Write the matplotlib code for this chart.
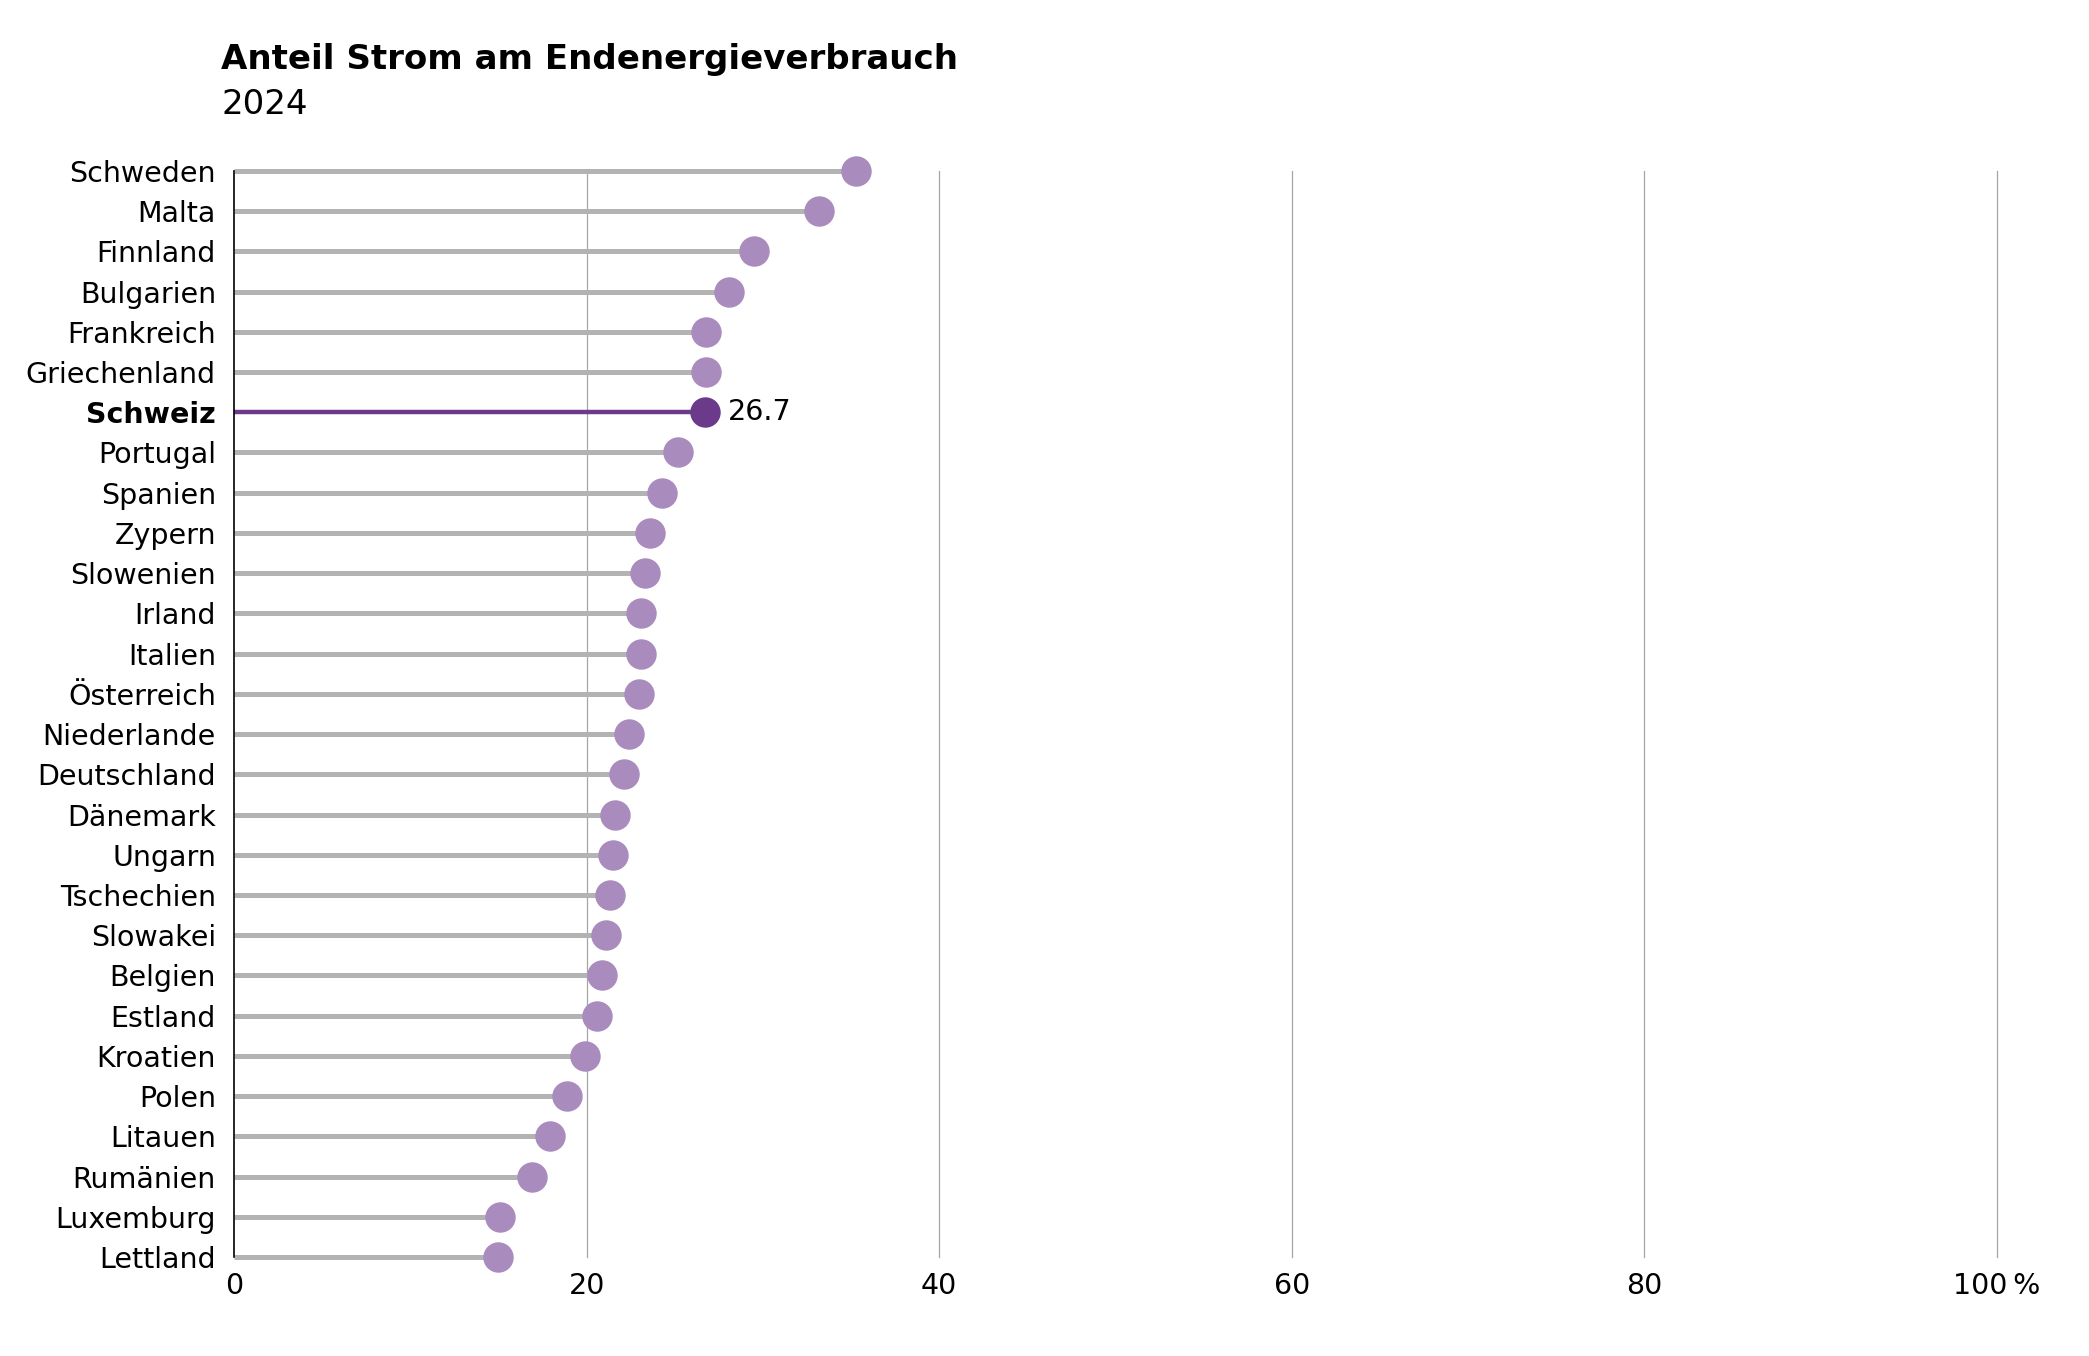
import numpy as np
import matplotlib.pyplot as plt

plt.rcParams['font.family'] = ['DejaVu Sans']

# Anteil Strom am Endenergieverbrauch 2024, in %
countries = ['Schweden', 'Malta', 'Finnland', 'Bulgarien', 'Frankreich', 'Griechenland',
             'Schweiz', 'Portugal', 'Spanien', 'Zypern', 'Slowenien', 'Irland', 'Italien',
             'Österreich', 'Niederlande', 'Deutschland', 'Dänemark', 'Ungarn', 'Tschechien',
             'Slowakei', 'Belgien', 'Estland', 'Kroatien', 'Polen', 'Litauen', 'Rumänien',
             'Luxemburg', 'Lettland']
values = [35.3, 33.2, 29.5, 28.1, 26.8, 26.75, 26.7, 25.2, 24.3, 23.6, 23.3, 23.1, 23.1,
          23.0, 22.4, 22.1, 21.6, 21.5, 21.3, 21.1, 20.9, 20.6, 19.9, 18.9, 17.9, 16.9,
          15.1, 15.0]
highlight = 'Schweiz'
xticks = [0, 20, 40, 60, 80, 100]
xticklabels = ['0', '20', '40', '60', '80', '100\u2009%']

fig = plt.figure(figsize=(20.89, 13.56), dpi=100)
ax = fig.add_axes([0.112, 0.073, 0.844, 0.801])

y = np.arange(len(countries))
light = '#a98bbd'
dark = '#6b3a8a'
for i, (c, v) in enumerate(zip(countries, values)):
    if c == highlight:
        ax.plot([0, v], [i, i], color=dark, lw=3.2, solid_capstyle='butt', zorder=3, clip_on=False)
        ax.scatter(v, i, s=480, color=dark, zorder=4, clip_on=False, linewidths=0)
        ax.text(v + 1.3, i, f'{v:.1f}', va='center', ha='left', fontsize=20.5, color='black')
    else:
        ax.plot([0, v], [i, i], color='#b3b3b3', lw=3.6, solid_capstyle='butt', zorder=3, clip_on=False)
        ax.scatter(v, i, s=480, color=light, zorder=4, clip_on=False, linewidths=0)

ax.set_xlim(0, 100)
ax.set_ylim(len(countries) - 1, 0)
ax.set_yticks(y)
ax.set_yticklabels(countries, fontsize=20.5)
for lab in ax.get_yticklabels():
    if lab.get_text() == highlight:
        lab.set_fontweight('bold')
ax.set_xticks(xticks)
ax.set_xticklabels(xticklabels, fontsize=20.5)
ax.tick_params(axis='both', length=0, colors='black')
ax.tick_params(axis='y', pad=13)
ax.tick_params(axis='x', pad=11)

for t in xticks[1:]:
    ax.axvline(t, color='#a6a6a6', lw=0.9, zorder=1, clip_on=False)
for s in ['top', 'right', 'bottom']:
    ax.spines[s].set_visible(False)
ax.spines['left'].set_color('black')
ax.spines['left'].set_linewidth(1.2)
ax.spines['left'].set_zorder(5)

fig.text(0.106, 0.956, 'Anteil Strom am Endenergieverbrauch', fontsize=24.5, fontweight='bold',
         va='center', ha='left', color='black')
fig.text(0.106, 0.923, '2024', fontsize=24.5, va='center', ha='left', color='black')

plt.savefig('out.png', dpi=100)
